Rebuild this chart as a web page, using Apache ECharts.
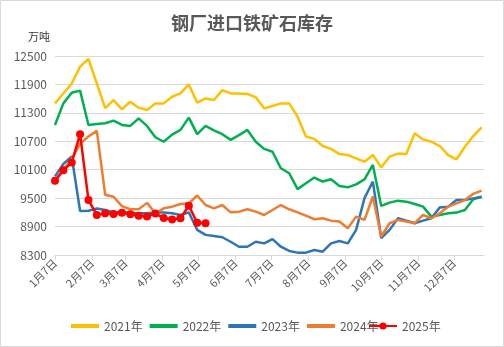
<!DOCTYPE html>
<html><head><meta charset="utf-8">
<script src="https://cdn.jsdelivr.net/npm/echarts@6/dist/echarts.min.js"></script>
<style>html,body{margin:0;padding:0;background:#fff}#c{width:504px;height:347px}</style>
</head><body><div id="c"></div>
<script>
const monthLabels = ['1月7日','2月7日','3月7日','4月7日','5月7日','6月7日','7月7日','8月7日','9月7日','10月7日','11月7日','12月7日'];
const monthDays = [0,31,59,90,120,151,181,212,243,273,304,334];
const yTicks = [8300, 8900, 9500, 10100, 10700, 11300, 11900, 12500];
const seriesNames = ['2021年','2022年','2023年','2024年','2025年'];
const y2021 = [11500,11710,11920,12275,12440,11920,11400,11570,11375,11535,11410,11360,11500,11500,11640,11710,11900,11515,11605,11570,11780,11710,11710,11700,11630,11395,11445,11500,11500,11220,10800,10750,10600,10540,10430,10410,10340,10270,10410,10150,10375,10440,10430,10870,10740,10690,10600,10410,10320,10585,10810,10995];
const y2022 = [11045,11500,11725,11770,11045,11065,11080,11135,11045,11025,11185,11025,10785,10690,10840,10940,11200,10850,11025,10930,10850,10730,10830,10940,10690,10540,10480,10130,10025,9690,9813,9935,9850,9900,9755,9728,9792,9897,10200,9335,9405,9447,9426,9377,9320,9110,9145,9180,9195,9250,9475,9530];
const y2023 = [9960,10220,10380,9230,9235,9280,9250,9200,9200,9190,9180,9180,9195,9195,9180,9145,9200,8830,8725,8700,8675,8580,8475,8475,8580,8545,8635,8475,8385,8350,8350,8405,8370,8545,8595,8545,8830,9500,9850,8655,8830,9075,9025,8970,9025,9075,9305,9320,9460,9460,9495,9530];
const y2024 = [9880,10100,10330,10650,10800,10920,9570,9530,9330,9265,9265,9400,9180,9285,9320,9377,9390,9555,9355,9285,9355,9200,9215,9265,9215,9145,9250,9355,9265,9200,9130,9055,9075,9025,9005,8865,9110,9040,9535,8690,8970,9040,9005,8970,9145,9075,9180,9320,9390,9460,9590,9660];
const y2025 = [9865,10090,10250,10850,9460,9145,9180,9165,9190,9158,9130,9115,9175,9080,9050,9075,9340,8980,8970];
const weekDays = y2021.map((_, i) => i * 7);

const colors = ['#FFC000','#00B050','#2E75B6','#ED7D31','#FF0000'];
const all = [y2021, y2022, y2023, y2024, y2025];
const chart = echarts.init(document.getElementById('c'));
const txt = '#595959';
const legendText = {fontSize: 12, color: txt, fontFamily: 'Noto Sans CJK SC'};
chart.setOption({
  animation: false,
  color: colors,
  title: {
    text: '钢厂进口铁矿石库存', left: 'center', top: 9,
    textStyle: {fontFamily: 'Noto Sans CJK SC', fontSize: 18, fontWeight: 'bold', color: txt}
  },
  graphic: [
    {type: 'text', left: 28, top: 31, style: {text: '万吨', fontSize: 11, fill: '#333', fontFamily: 'Noto Sans CJK SC'}},
    {type: 'rect', shape: {x: 0.5, y: 0.5, width: 503, height: 346}, style: {fill: null, stroke: '#d9d9d9', lineWidth: 1}, silent: true}
  ],
  legend: [
    {
      left: 66, top: 315, itemWidth: 28, itemHeight: 4, itemGap: 7, icon: 'rect',
      textStyle: legendText, data: seriesNames.slice(0, 4)
    },
    {
      left: 363, top: 315, itemWidth: 28, itemHeight: 9,
      textStyle: legendText, data: seriesNames.slice(4)
    }
  ],
  grid: {left: 55, right: 20, top: 56, bottom: 92},
  xAxis: {
    type: 'value', min: 0, max: 359,
    axisLine: {show: true, lineStyle: {color: '#d9d9d9'}},
    axisTick: {show: true, customValues: monthDays, length: 5, lineStyle: {color: '#d9d9d9'}},
    axisLabel: {
      customValues: monthDays, rotate: 45, fontSize: 11, color: txt, margin: 6,
      fontFamily: 'Noto Sans CJK SC',
      formatter: v => monthLabels[monthDays.indexOf(v)]
    },
    splitLine: {show: false}
  },
  yAxis: {
    type: 'value', min: yTicks[0], max: yTicks[yTicks.length - 1], interval: 600,
    axisLine: {show: false}, axisTick: {show: false},
    axisLabel: {fontSize: 12, color: txt, margin: 8, fontFamily: 'Noto Sans CJK SC', formatter: v => String(v)},
    splitLine: {lineStyle: {color: '#d9d9d9'}}
  },
  series: all.map((arr, k) => ({
    name: seriesNames[k],
    type: 'line',
    data: arr.map((v, i) => [weekDays[i], v]),
    symbol: k === 4 ? 'circle' : 'none',
    symbolSize: 8,
    showSymbol: k === 4,
    lineStyle: {width: 2.5, color: colors[k]},
    itemStyle: {color: colors[k]},
    z: k === 4 ? 5 : 2
  }))
});
</script></body></html>
